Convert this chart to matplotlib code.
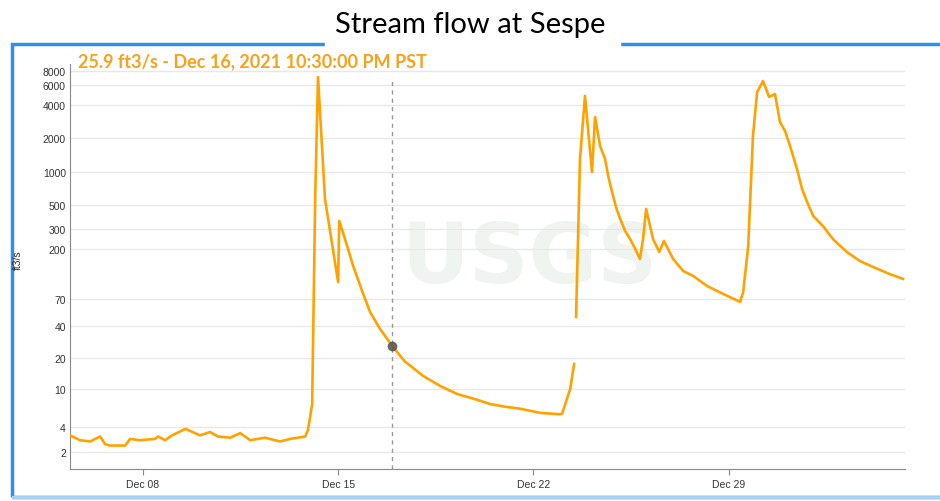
import matplotlib
matplotlib.use("Agg")
import matplotlib.pyplot as plt
import matplotlib.dates as mdates
import numpy as np
import pandas as pd
from matplotlib.patches import Rectangle

# day of December (Dec 1 00:00 = 1.0; values past 32 run into January)
days = [5.39, 5.75, 6.11, 6.47, 6.65, 6.83, 7.37, 7.54, 7.90, 8.44, 8.55,
        8.80, 9.05, 9.52, 9.70, 10.05, 10.41, 10.70, 11.13, 11.49, 11.85,
        12.38, 12.92, 13.28, 13.82, 13.92, 14.07, 14.18, 14.28, 14.53, 15.00,
        15.04, 15.25, 15.54, 15.86, 16.15, 16.51, 16.9375, 17.38, 18.05,
        18.66, 19.27, 19.91, 20.45, 20.99, 21.52, 22.24, 22.96, 23.03, 23.32,
        23.46, 23.50,
        23.53, 23.67, 23.85, 24.10, 24.21, 24.39, 24.57, 24.68, 24.82, 24.96,
        25.11, 25.29, 25.47, 25.65,
        25.82, 25.93, 26.04, 26.29, 26.51, 26.68, 27.01, 27.37, 27.72, 28.23,
        28.80, 29.41, 29.52, 29.70, 29.87, 30.02, 30.23, 30.45, 30.66, 30.84,
        31.02, 31.20, 31.45, 31.63, 31.81, 32.03, 32.38, 32.74, 33.24, 33.71,
        34.18, 34.78, 35.25]
flow = [3.2, 2.8, 2.7, 3.1, 2.5, 2.4, 2.4, 2.9, 2.8, 2.9, 3.1,
        2.8, 3.2, 3.8, 3.6, 3.2, 3.5, 3.1, 3.0, 3.4, 2.8,
        3.0, 2.7, 2.9, 3.1, 3.7, 7.0, 600, 7100, 566, 100,
        358, 245, 140, 83, 53, 37, 25.9, 18.6, 13.4,
        10.7, 8.9, 7.9, 7.05, 6.6, 6.3, 5.7, 5.5, 5.6, 10,
        17.5, np.nan,
        48, 1296, 4800, 990, 3100, 1700, 1296, 911, 654, 479,
        374, 290, 245, 200,
        162, 245, 460, 245, 188, 236, 162, 126, 114, 92,
        78, 66, 81, 212, 2090, 5200, 6540, 4700, 5000, 2790,
        2320, 1700, 1050, 696, 531, 397, 322, 245, 187, 155,
        137, 118, 107]

marker_day = 16.9375
marker_flow = 25.9
tick_days = [8, 15, 22, 29]
y_ticks = [2, 4, 10, 20, 40, 70, 200, 300, 500, 1000, 2000, 4000, 6000, 8000]

base = pd.Timestamp("2021-12-01")


def to_date(d):
    return base + pd.to_timedelta(np.asarray(d, dtype=float) - 1, unit="D")


def fwd(v):
    return np.log10(np.asarray(v, dtype=float) + 1)


def inv(v):
    return 10 ** np.asarray(v, dtype=float) - 1


fig = plt.figure(figsize=(9.4, 5.02), dpi=100)

# blue panel frame
fig.patches.append(Rectangle((12 / 940, 4 / 502), 1.0, 453 / 502,
                             transform=fig.transFigure, fill=False,
                             edgecolor="#2f8ef2", lw=2.5, zorder=0))
fig.patches.append(Rectangle((12 / 940, 3 / 502), 930 / 940, 2 / 502,
                             transform=fig.transFigure, color="#a9d0f7",
                             zorder=1))
fig.patches.append(Rectangle((325 / 940, 450 / 502), 295 / 940, 52 / 502,
                             transform=fig.transFigure, color="white",
                             zorder=2))
fig.text(0.5, 1 - 25 / 502, "Stream flow at Sespe", ha="center", va="center",
         fontsize=21, family="Lato", color="black", zorder=3)

ax = fig.add_axes([70 / 940, 32 / 502, 835 / 940, 405 / 502])
ax.set_yscale("function", functions=(fwd, inv))

ax.text(0.55, 0.52, "USGS", transform=ax.transAxes, ha="center",
        va="center", fontsize=60, fontweight="bold", color="#f0f4f0",
        zorder=0)

ax.plot(to_date(days), flow, color="#ffa200", lw=1.9, zorder=3)
ax.axvline(to_date(marker_day), ymax=0.965, color="#999999", lw=1,
           ls=(0, (3, 3)), zorder=2)
ax.plot(to_date(marker_day), marker_flow, "o", color="#555555", ms=6,
        alpha=0.85, zorder=4)

ax.set_ylim(1.09, 9310)
ax.set_xlim(to_date(5.39), to_date(35.32))
ax.set_yticks(y_ticks)
ax.set_yticklabels([str(v) for v in y_ticks])
ax.yaxis.set_minor_locator(matplotlib.ticker.NullLocator())
ax.set_xticks(to_date(tick_days))
ax.xaxis.set_major_formatter(mdates.DateFormatter("%b %d"))

ax.grid(axis="y", color="#e8e8e8", lw=1)
ax.set_axisbelow(True)
for s in ["top", "right"]:
    ax.spines[s].set_visible(False)
for s in ["left", "bottom"]:
    ax.spines[s].set_color("#888888")
ax.tick_params(axis="y", length=0, pad=3, labelsize=7.5, labelcolor="#333333")
ax.tick_params(axis="x", length=4, color="#888888", pad=3, labelsize=7.5,
               labelcolor="#333333")
for lab in ax.get_xticklabels() + ax.get_yticklabels():
    lab.set_family("Liberation Sans")

fig.text(78 / 940, 1 - 62 / 502,
         "25.9 ft3/s - Dec 16, 2021 10:30:00 PM PST", ha="left",
         va="center", fontsize=13, fontweight="bold", family="Lato",
         color="#f7a21b")
fig.text(18 / 940, 1 - 260 / 502, "ft3/s", rotation=90, ha="center",
         va="center", fontsize=7.5, family="Liberation Sans", color="#333333")

fig.savefig("out.png", dpi=100)
